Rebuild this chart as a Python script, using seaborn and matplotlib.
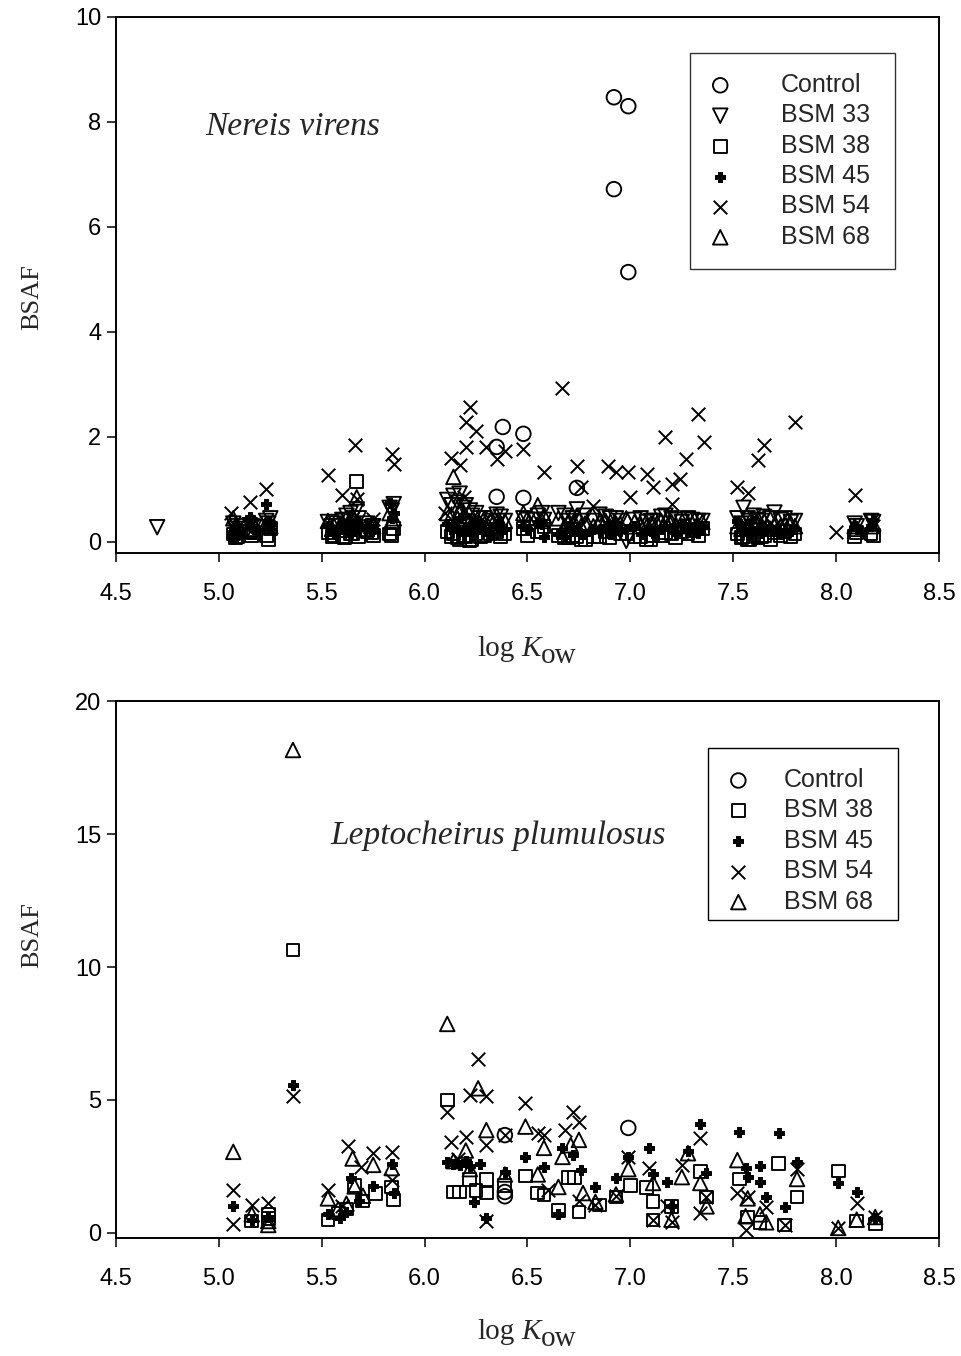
import numpy as np
import pandas as pd
import matplotlib
matplotlib.use("Agg")
import matplotlib.pyplot as plt
from matplotlib.patches import Rectangle
import seaborn as sns

sns.set_theme(style="white")
plt.rcParams["font.family"] = ["Liberation Sans", "DejaVu Sans"]

# ---------------- Nereis virens ----------------
# log Kow of the congeners measured in every treatment (two sediment batches)
top_kow = [5.07, 5.09, 5.15, 5.17, 5.23, 5.25,
           5.53, 5.56, 5.60, 5.62, 5.65, 5.67, 5.72, 5.75, 5.83, 5.85,
           6.11, 6.14, 6.17, 6.20, 6.22, 6.25, 6.29, 6.35, 6.39, 6.48,
           6.55, 6.58, 6.65, 6.70, 6.74, 6.78, 6.82, 6.88, 6.93, 6.98,
           7.02, 7.08, 7.11, 7.17, 7.20, 7.25, 7.30, 7.35,
           7.52, 7.55, 7.58, 7.62, 7.65, 7.70, 7.75, 7.80,
           8.09, 8.18]
top_kow_b = [5.08, 5.16, 5.24, 5.55, 5.61, 5.64, 5.68, 5.74, 5.84, 6.13,
             6.16, 6.19, 6.23, 6.27, 6.32, 6.37, 6.50, 6.57, 6.68, 6.72,
             6.76, 6.85, 6.90, 6.95, 7.05, 7.10, 7.15, 7.22, 7.28, 7.33,
             7.54, 7.57, 7.60, 7.64, 7.68, 7.73, 7.78, 8.10, 8.17]

nv_bsm33_extra_kow = [4.70]
nv_bsm33_extra = [0.28]
nv_bsm33 = [0.35, 0.30, 0.32, 0.28, 0.40, 0.45,
            0.38, 0.35, 0.42, 0.50, 0.45, 0.62, 0.35, 0.30, 0.65, 0.72,
            0.80, 0.88, 0.92, 0.70, 0.60, 0.55, 0.45, 0.52, 0.40, 0.45,
            0.50, 0.42, 0.55, 0.40, 0.62, 0.50, 0.40, 0.48, 0.45, 0.02,
            0.42, 0.38, 0.40, 0.50, 0.45, 0.38, 0.42, 0.40,
            0.45, 0.65, 0.40, 0.42, 0.48, 0.56, 0.45, 0.40,
            0.35, 0.38]
nv_bsm33_b = [0.25, 0.30, 0.35, 0.30, 0.40, 0.55, 0.45, 0.28, 0.60, 0.70,
              0.75, 0.65, 0.50, 0.45, 0.40, 0.48, 0.42, 0.55, 0.50, 0.45,
              0.40, 0.52, 0.45, 0.40, 0.45, 0.40, 0.48, 0.42, 0.45, 0.40,
              0.35, 0.45, 0.50, 0.40, 0.45, 0.42, 0.38, 0.30, 0.40]

nv_bsm38 = [0.15, 0.10, 0.20, 0.18, 0.12, 0.25,
            0.18, 0.12, 0.10, 0.22, 0.15, 1.15, 0.20, 0.12, 0.15, 0.25,
            0.20, 0.15, 0.05, 0.10, 0.02, 0.15, 0.12, 0.20, 0.15, 0.25,
            0.20, 0.30, 0.12, 0.08, 0.10, 0.05, 0.10, 0.20, 0.25, 0.15,
            0.10, 0.05, 0.12, 0.18, 0.15, 0.20, 0.22, 0.25,
            0.15, 0.10, 0.05, 0.08, 0.12, 0.18, 0.20, 0.15,
            0.10, 0.12]
nv_bsm38_b = [0.08, 0.12, 0.05, 0.10, 0.08, 0.15, 0.10, 0.18, 0.12, 0.10,
              0.08, 0.12, 0.05, 0.10, 0.15, 0.10, 0.12, 0.20, 0.08, 0.12,
              0.05, 0.10, 0.08, 0.15, 0.10, 0.05, 0.12, 0.08, 0.15, 0.12,
              0.08, 0.05, 0.12, 0.10, 0.05, 0.12, 0.10, 0.18, 0.15]

nv_bsm45 = [0.05, 0.15, 0.48, 0.25, 0.72, 0.35,
            0.30, 0.15, 0.25, 0.35, 0.20, 0.40, 0.30, 0.25, 0.75, 0.55,
            0.35, 0.30, 0.45, 0.25, 0.30, 0.40, 0.20, 0.35, 0.25, 0.30,
            0.38, 0.10, 0.15, 0.30, 0.22, 0.15, 0.25, 0.30, 0.35, 0.25,
            0.30, 0.22, 0.18, 0.30, 0.25, 0.35, 0.28, 0.30,
            0.40, 0.20, 0.15, 0.25, 0.30, 0.20, 0.22, 0.25,
            0.30, 0.42]
nv_bsm45_b = [0.20, 0.30, 0.40, 0.20, 0.30, 0.15, 0.25, 0.20, 0.45, 0.25,
              0.20, 0.15, 0.20, 0.25, 0.15, 0.20, 0.25, 0.35, 0.10, 0.20,
              0.15, 0.20, 0.15, 0.20, 0.15, 0.20, 0.25, 0.15, 0.20, 0.18,
              0.25, 0.15, 0.20, 0.18, 0.25, 0.15, 0.20, 0.25, 0.30]

nv_bsm68 = [0.45, 0.30, 0.25, 0.20, 0.35, 0.30,
            0.40, 0.30, 0.35, 0.45, 0.50, 0.85, 0.25, 0.30, 0.55, 0.45,
            0.55, 1.24, 0.60, 0.45, 0.40, 0.35, 0.45, 0.50, 0.40, 0.55,
            0.70, 0.50, 0.45, 0.40, 0.50, 0.35, 0.30, 0.40, 0.35, 0.45,
            0.38, 0.30, 0.35, 0.40, 0.38, 0.30, 0.35, 0.38,
            0.30, 0.25, 0.30, 0.35, 0.40, 0.30, 0.35, 0.30,
            0.30, 0.35]
nv_bsm68_b = [0.30, 0.40, 0.35, 0.25, 0.30, 0.40, 0.35, 0.30, 0.40, 0.50,
              0.45, 0.50, 0.35, 0.30, 0.40, 0.35, 0.45, 0.40, 0.30, 0.35,
              0.30, 0.40, 0.30, 0.35, 0.30, 0.35, 0.40, 0.30, 0.35, 0.30,
              0.25, 0.30, 0.35, 0.30, 0.25, 0.30, 0.35, 0.25, 0.30]

nv_ctrl_kow = [6.35, 6.38, 6.48, 6.35, 6.48, 6.74, 6.92, 6.99, 6.92, 6.99]
nv_ctrl = [1.81, 2.19, 2.06, 0.86, 0.84, 1.03, 8.47, 8.30, 6.72, 5.14]

nv_bsm54_kow = [5.06, 5.15, 5.23, 5.24, 5.08, 5.53, 5.60, 5.66, 5.67, 5.75,
                5.62, 5.84, 5.85, 6.10, 6.13, 6.17, 6.20, 6.20, 6.22, 6.25,
                6.19, 6.30, 6.35, 6.39, 6.48, 6.29, 6.58, 6.67, 6.74, 6.76,
                6.82, 6.89, 6.93, 6.99, 7.00, 7.08, 7.11, 7.17, 7.20, 7.20,
                7.24, 7.27, 7.33, 7.36, 7.30, 7.52, 7.57, 7.62, 7.65, 7.80,
                7.70, 8.00, 8.09, 8.18]
nv_bsm54 = [0.55, 0.76, 1.00, 0.30, 0.25, 1.28, 0.90, 1.85, 0.82, 0.44,
            0.35, 1.68, 1.49, 0.55, 1.60, 1.47, 2.28, 1.81, 2.57, 2.11,
            0.86, 1.81, 1.58, 1.73, 1.77, 0.40, 1.33, 2.93, 1.45, 1.05,
            0.69, 1.45, 1.33, 1.33, 0.86, 1.30, 1.05, 2.00, 1.10, 0.72,
            1.20, 1.58, 2.44, 1.90, 0.35, 1.05, 0.93, 1.56, 1.85, 2.29,
            0.30, 0.19, 0.90, 0.30]

# ---------------- Leptocheirus plumulosus ----------------
lp_ctrl_kow = [6.39, 6.39, 6.39, 6.99]
lp_ctrl = [3.68, 1.54, 1.38, 3.95]

lp_bsm38_kow = [5.16, 5.24, 5.24, 5.36, 5.53, 5.58, 5.62, 5.66, 5.70, 5.76,
                5.84, 5.85, 6.11, 6.14, 6.17, 6.22, 6.25, 6.30, 6.30, 6.39,
                6.49, 6.55, 6.58, 6.65, 6.70, 6.73, 6.75, 6.85, 6.93, 7.00,
                7.08, 7.11, 7.11, 7.20, 7.34, 7.37, 7.53, 7.57, 7.63, 7.72,
                7.75, 7.81, 8.01, 8.10, 8.19]
lp_bsm38 = [0.45, 0.70, 0.55, 10.64, 0.49, 0.75, 0.90, 1.78, 1.20, 1.47,
            1.73, 1.24, 5.00, 1.54, 1.54, 2.00, 1.60, 1.50, 2.00, 1.80,
            2.14, 1.50, 1.43, 0.86, 2.10, 2.10, 0.79, 1.05, 1.35, 1.77,
            1.70, 1.17, 0.49, 1.00, 2.30, 1.35, 2.03, 0.60, 0.40, 2.60,
            0.30, 1.35, 2.33, 0.45, 0.34]

lp_bsm45_kow = [5.07, 5.16, 5.24, 5.36, 5.53, 5.59, 5.62, 5.64, 5.68, 5.75,
                5.84, 5.85, 6.11, 6.14, 6.17, 6.20, 6.22, 6.24, 6.30, 6.27,
                6.39, 6.49, 6.58, 6.65, 6.67, 6.72, 6.76, 6.83, 6.93, 6.99,
                7.09, 7.11, 7.18, 7.20, 7.28, 7.34, 7.37, 7.53, 7.56, 7.57,
                7.63, 7.63, 7.66, 7.72, 7.75, 7.81, 8.01, 8.10, 8.19]
lp_bsm45 = [1.00, 0.50, 0.60, 5.56, 0.70, 0.56, 0.80, 2.06, 1.20, 1.78,
            2.60, 1.50, 2.65, 2.60, 2.55, 2.70, 2.50, 1.17, 0.56, 2.60,
            2.30, 2.86, 2.48, 0.71, 3.20, 2.93, 2.37, 1.73, 2.07, 2.86,
            3.20, 2.20, 1.92, 1.00, 3.10, 4.10, 2.26, 3.80, 2.44, 2.10,
            2.52, 1.90, 1.35, 3.76, 0.98, 2.67, 1.88, 1.54, 0.55]

lp_bsm54_kow = [5.07, 5.07, 5.16, 5.24, 5.36, 5.53, 5.60, 5.63, 5.69, 5.75,
                5.84, 5.84, 6.11, 6.13, 6.16, 6.20, 6.22, 6.26, 6.30, 6.30,
                6.30, 6.39, 6.49, 6.55, 6.58, 6.60, 6.68, 6.72, 6.75, 6.75,
                6.83, 6.93, 6.99, 7.09, 7.11, 7.18, 7.20, 7.25, 7.34, 7.34,
                7.37, 7.52, 7.56, 7.57, 7.66, 7.75, 7.81, 8.01, 8.10, 8.19]
lp_bsm54 = [1.62, 0.34, 1.05, 1.13, 5.15, 1.62, 1.00, 3.27, 2.48, 3.00,
            3.05, 2.00, 4.55, 3.42, 2.80, 3.60, 5.19, 6.53, 5.15, 3.30,
            0.45, 3.68, 4.90, 3.75, 3.68, 1.60, 3.87, 4.55, 4.17, 1.20,
            1.05, 1.40, 2.86, 2.44, 0.49, 1.00, 0.40, 2.56, 3.57, 0.75,
            1.35, 1.50, 0.11, 1.35, 0.98, 0.30, 2.40, 0.19, 1.13, 0.60]

lp_bsm68_kow = [5.07, 5.16, 5.24, 5.24, 5.36, 5.53, 5.58, 5.65, 5.66, 5.62,
                5.75, 5.84, 5.70, 6.11, 6.14, 6.20, 6.26, 6.30, 6.22, 6.39,
                6.49, 6.55, 6.58, 6.65, 6.67, 6.71, 6.75, 6.77, 6.83, 6.93,
                6.99, 7.11, 7.20, 7.25, 7.28, 7.34, 7.37, 7.52, 7.56, 7.57,
                7.63, 7.66, 7.81, 8.01, 8.10, 8.19]
lp_bsm68 = [3.05, 0.70, 0.45, 0.30, 18.16, 1.30, 0.90, 2.80, 1.75, 1.10,
            2.56, 2.44, 1.40, 7.86, 2.70, 3.10, 5.44, 3.87, 2.40, 2.20,
            4.00, 2.20, 3.20, 1.73, 2.86, 3.30, 3.50, 1.50, 1.17, 1.45,
            2.40, 1.88, 0.50, 2.10, 3.00, 1.88, 1.00, 2.74, 0.63, 1.30,
            0.70, 0.40, 2.03, 0.19, 0.50, 0.60]


def frame(pairs):
    parts = [pd.DataFrame({"kow": k, "bsaf": v, "group": g}) for g, k, v in pairs]
    return pd.concat(parts, ignore_index=True)


nereis = frame([
    ("Control", nv_ctrl_kow, nv_ctrl),
    ("BSM 33", nv_bsm33_extra_kow + top_kow + top_kow_b,
     nv_bsm33_extra + nv_bsm33 + nv_bsm33_b),
    ("BSM 38", top_kow + top_kow_b, nv_bsm38 + nv_bsm38_b),
    ("BSM 45", top_kow + top_kow_b, nv_bsm45 + nv_bsm45_b),
    ("BSM 54", nv_bsm54_kow, nv_bsm54),
    ("BSM 68", top_kow + top_kow_b, nv_bsm68 + nv_bsm68_b),
])
lepto = frame([
    ("Control", lp_ctrl_kow, lp_ctrl),
    ("BSM 38", lp_bsm38_kow, lp_bsm38),
    ("BSM 45", lp_bsm45_kow, lp_bsm45),
    ("BSM 54", lp_bsm54_kow, lp_bsm54),
    ("BSM 68", lp_bsm68_kow, lp_bsm68),
])

styles = {
    "Control": dict(marker="o", s=110, facecolor="none", edgecolor="black", linewidth=1.35),
    "BSM 33": dict(marker="v", s=110, facecolor="none", edgecolor="black", linewidth=1.35),
    "BSM 38": dict(marker="s", s=85, facecolor="none", edgecolor="black", linewidth=1.35),
    "BSM 45": dict(marker="P", s=62, edgecolor="black", linewidth=0.7),
    "BSM 54": dict(marker="x", s=95, linewidth=1.4),
    "BSM 68": dict(marker="^", s=110, facecolor="none", edgecolor="black", linewidth=1.35),
}

fig = plt.figure(figsize=(9.61, 13.56), dpi=100)
ax1 = fig.add_axes([0.1207, 0.5922, 0.8564, 0.3953])
ax2 = fig.add_axes([0.1207, 0.0870, 0.8564, 0.3960])

serif = "Liberation Serif"


def kow_label(ax, y):
    # "log K_ow" with an italic K and a lowered, full-size "ow"
    t0 = ax.text(0.4386, y, "log", transform=ax.transAxes, ha="left",
                 va="baseline", family=serif, fontsize=21)
    t1 = ax.annotate("K", xy=(1, 0), xycoords=t0, xytext=(5, 0),
                     textcoords="offset points", ha="left", va="bottom",
                     family=serif, style="italic", fontsize=21)
    ax.annotate("ow", xy=(1, 0), xycoords=t1, xytext=(0.5, -5),
                textcoords="offset points", ha="left", va="bottom",
                family=serif, fontsize=21)


def draw_panel(ax, df, ylim, yticks, species, species_xy, legend_box,
               textpad, ylabel_y, xlabel_y, box_frame=None):
    for name in df["group"].unique():
        sub = df[df["group"] == name]
        sns.scatterplot(data=sub, x="kow", y="bsaf", ax=ax, color="black",
                        legend=False, label=name, zorder=3, **styles[name])
    ax.set_xlim(4.5, 8.5)
    ax.set_ylim(*ylim)
    ax.set_xticks([4.5, 5.0, 5.5, 6.0, 6.5, 7.0, 7.5, 8.0, 8.5])
    ax.set_xticklabels(["4.5", "5.0", "5.5", "6.0", "6.5", "7.0", "7.5", "8.0", "8.5"])
    ax.set_yticks(yticks)
    ax.tick_params(direction="out", length=6.5, width=1.1, colors="black",
                   labelsize=17, bottom=True, left=True)
    ax.tick_params(axis="x", pad=15)
    ax.tick_params(axis="y", pad=4)
    for sp in ax.spines.values():
        sp.set_visible(True)
        sp.set_color("black")
        sp.set_linewidth(1.4)
    ax.grid(False)
    ax.set_xlabel("")
    ax.set_ylabel("BSAF", family=serif, fontsize=19)
    ax.yaxis.set_label_coords(-0.088, ylabel_y)
    kow_label(ax, xlabel_y)
    ax.text(species_xy[0], species_xy[1], species, transform=ax.transAxes,
            family=serif, style="italic", fontsize=24, ha="left", va="center")
    handles, labels = ax.get_legend_handles_labels()
    leg = ax.legend(handles, labels, loc="upper left", bbox_to_anchor=legend_box,
                    mode="expand", fontsize=18, frameon=box_frame is None,
                    fancybox=False, borderpad=0.8, labelspacing=0.256,
                    handlelength=0.85, handletextpad=textpad, borderaxespad=0.0)
    if box_frame is None:
        leg.get_frame().set_edgecolor("black")
        leg.get_frame().set_linewidth(1.0)
    else:
        # legend border with a tighter bottom margin
        x0, y0, w, h = box_frame
        ax.add_patch(Rectangle((x0, y0), w, h, transform=ax.transAxes,
                               facecolor="white", edgecolor="black",
                               linewidth=1.0, zorder=4.5))
        leg.set_zorder(5)


draw_panel(ax1, nereis, (-0.21, 10), [0, 2, 4, 6, 8, 10], "Nereis virens",
           (0.108, 0.795), (0.697, 0.0, 0.249, 0.933), 2.0, 0.478, -0.192)
draw_panel(ax2, lepto, (-0.19, 20), [0, 5, 10, 15, 20], "Leptocheirus plumulosus",
           (0.26, 0.750), (0.719, 0.0, 0.231, 0.9125), 1.4, 0.564, -0.188,
           box_frame=(0.719, 0.592, 0.231, 0.3205))

fig.savefig("out.png", dpi=100)
